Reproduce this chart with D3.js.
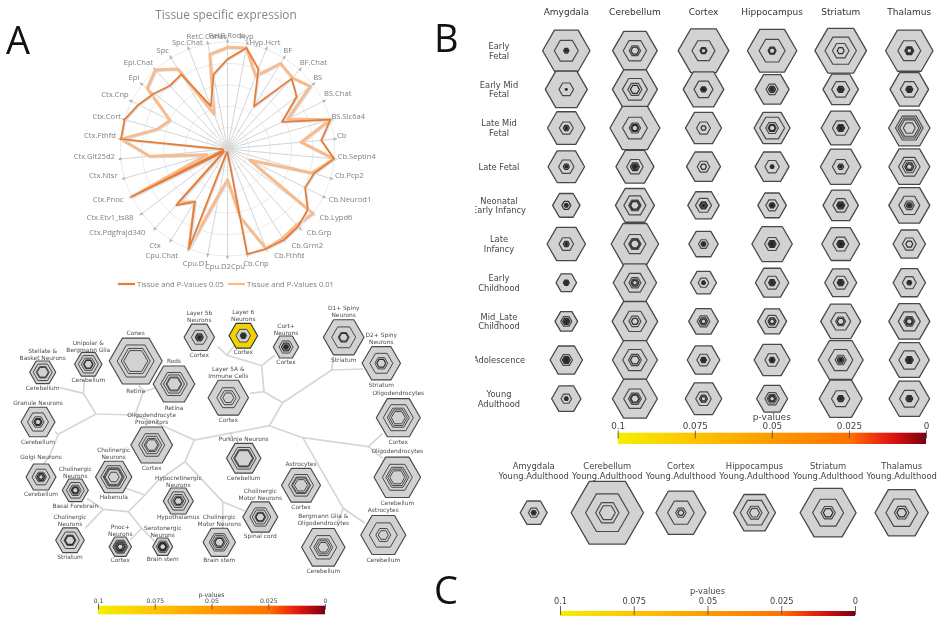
<!DOCTYPE html>
<html><head><meta charset="utf-8">
<style>html,body{margin:0;padding:0;background:#fff}svg{display:block;filter:blur(0.5px)}</style>
<script src="https://cdn.jsdelivr.net/npm/d3@7"></script></head><body>
<svg id="c" width="941" height="619"></svg>
<script>
// ---------- radar data ----------
const radarAxes=["RetB.Rods","Hyp","Hyp.Hcrt","BF","BF.Chat","BS","BS.Chat","BS.Slc6a4","Cb","Cb.Septin4","Cb.Pcp2","Cb.Neurod1","Cb.Lypd6","Cb.Grp","Cb.Grm2","Cb.Fthfd","Cb.Cnp","Cpu.D2Cpu","Cpu.D1","Cpu.Chat","Ctx","Ctx.Pdgfrajd340","Ctx.Etv1_ts88","Ctx.Pnoc","Ctx.Ntsr","Ctx.Glt25d2","Ctx.Fthfd","Ctx.Cort","Ctx.Cnp","Epi","Epi.Chat","Spc","Spc.Chat","RetC.Cones"];
const radarP05=[.84,.96,.80,.47,.89,.81,.57,1,.88,1,.84,.81,.94,.98,1,1,1,.03,.03,1,.58,.71,.04,1,.04,.04,1,1,.93,.86,.80,.82,.43,.71];
const radarP01=[.95,.96,.73,.94,.90,.97,.63,1,.69,1,.82,.23,1,.96,.98,1,.65,.29,.43,1,.58,.68,.04,1,.2,.73,1,.68,.60,.94,1,.88,.35,.90];
const radarGrid=[.2,.4,.6,.8,1];
// ---------- developmental (B) data ----------
const regions=["Amygdala","Cerebellum","Cortex","Hippocampus","Striatum","Thalamus"];
const ageRows=[["Early","Fetal"],["Early Mid","Fetal"],["Late Mid","Fetal"],["Late Fetal"],["Neonatal","Early Infancy"],["Late","Infancy"],["Early","Childhood"],["Mid_Late","Childhood"],["Adolescence"],["Young","Adulthood"]];
const ringsEarlyFetal=[[23.7,12,2.7,1.5],[22.3,11.7,5.7,4],[25.3,11.5,3.5,2.5],[24.7,13,4,3],[25.8,15.7,8.3,3.5],[23.7,11.5,4.5,3.5,2.5]];
const ringsEarlyMidFetal=[[21,7.3,1],[22.5,12.5,7,4.5],[20.3,9.5,3,2],[17,6,3.5,2,1],[17.7,9,3.5,2.5,1.5],[19.3,9,3.5,2.5,1.5]];
const ringsLateMidFetal=[[18.8,7,3,1.5],[25,12.5,5.7,4,3],[18,7,2.5],[18,12.5,6.3,4,3],[19.5,8.3,4,3,2],[20.7,13.8,11.5,9.5,6]];
const ringsLateFetal=[[18.3,7.7,3,1.5],[19,8.3,4.5,3,2],[17,6.3,3],[17,7.2,2,1],[20.3,8.3,3,1.5],[20.5,10.8,7,4.5,3]];
const ringsNeonatal=[[13.7,4.5,2,1],[19.5,11,6.2,5.6,5,4.4],[15.7,8,4,3,1.5],[14.3,6.3,3,2],[17.7,7.8,4,3,2],[20.5,10.5,5,3,1.5]];
const ringsLateInfancy=[[19.2,7.3,3,1.5],[23.7,11,6.2,5.6,5,4.4],[14.7,5,2.5,1.5],[20.2,7.5,4,3,2],[19,8,4,3,2],[16.2,7,3.5]];
const ringsEarlyChildhood=[[10.3,3,2,1],[21.7,10.8,6,4,2.5],[13,5.3,2,1],[16.7,7.5,3.5,2.5,1.5],[16,7.5,3.5,2.5,1.5],[16.2,7,2.5,1.5]];
const ringsMidLateChildhood=[[11.3,5.5,3.5,2.5,1.5],[22.8,11.7,6,3.5],[14.8,6.3,4,2.5],[14.5,7,4,2.5],[20,10,5,3.5],[20.5,11,5.5,4,3]];
const ringsAdolescence=[[16.2,6.2,4,3,2],[22.5,12.2,6.5,4.5],[16.3,6.7,3,2,1],[18,7.2,3,2],[22.5,12.2,5.5,3.5,2],[20,10.5,4,3,2]];
const ringsYoungAdulthood=[[14.7,5.3,2,1],[22.5,11.2,6.5,5,4],[18.3,7.8,4,2.5],[15.5,7.2,5,3.5,2.5],[21.5,9.2,3.5,2.5,1.5],[20.3,9.7,3.5,2.5,1.5]];
const ringsByAge=[ringsEarlyFetal,ringsEarlyMidFetal,ringsLateMidFetal,ringsLateFetal,ringsNeonatal,ringsLateInfancy,ringsEarlyChildhood,ringsMidLateChildhood,ringsAdolescence,ringsYoungAdulthood];
// ---------- panel C data ----------
const ringsRegionYoung=[[13.5,5.3,2.5,1.5],[36.2,21.7,11.7,8],[25,13.3,5.2,3],[21,14.2,7.5,5],[28,15.5,7.2,4.8],[26.7,15.8,7.3,4.8]];
// ---------- colour bar ----------
const pTicks=[0.1,0.075,0.05,0.025,0];
const pStops=[0.1,0.075,0.05,0.025,0.012,0];
const pColors=["#f4ee00","#ffc400","#ff9a00","#ff7200","#e81510","#7a0010"];
// ---------- panel A cell types ----------
const nodeTop=[["Stellate &","Basket Neurons"],["Unipolar &","Bergmann Glia"],["Cones"],["Rods"],["Layer 5b","Neurons"],["Layer 6","Neurons"],["Cort+","Neurons"],["D1+ Spiny","Neurons"],["D2+ Spiny","Neurons"],["Layer 5A &","Immune Cells"],["Oligodendrocytes"],["Oligodendrocytes"],["Purkinje Neurons"],["Astrocytes"],["Astrocytes"],["Bergmann Glia &","Oligodendrocytes"],["Cholinergic","Motor Neurons"],["Cholinergic","Motor Neurons"],["Oligodendrocyte","Progenitors"],["Granule Neurons"],["Golgi Neurons"],["Cholinergic","Neurons"],["Cholinergic","Neurons"],["Hypocretinergic","Neurons"],["Cholinergic","Neurons"],["Pnoc+","Neurons"],["Serotonergic","Neurons"]];
const nodeTissue=["Cerebellum","Cerebellum","Retina","Retina","Cortex","Cortex","Cortex","Striatum","Striatum","Cortex","Cortex","Cerebellum","Cerebellum","Cortex","Cerebellum","Cerebellum","Spinal cord","Brain stem","Cortex","Cerebellum","Cerebellum","Basal Forebrain","Habenula","Hypothalamus","Striatum","Cortex","Brain stem"];
const nodeRings=[[13,9.5,6.5,6,5.5],[13.7,10,7,5,4.4],[26.5,18.5,14.5,12],[20.8,13.3,10.5,8,7],[15.2,8,4,2.5,1.5],[14.3,7.3,3,2,1],[12.7,7,4.5,2.5,1.5],[20.3,12,5.5,4.5],[19.2,11.5,6.5,4.5],[20.2,11.5,8,5.5],[22,15,11,9,7],[23.3,15,11.5,9.5,7.5],[17.2,12.5,10,9.4,8.8],[19.5,12.5,9.5,8.5,6.5],[22.5,14,7.5,5],[21.7,13.5,9.5,7.5,5.5],[17.5,10.5,8,5.5,4.5],[16.2,10,8,6,4.5],[20.8,13,10,7.5,6],[17,10.5,6,4,3],[15,9,5.5,4,2.5],[13,9,6,4,3],[18.2,13,10.5,9.5,8.5,5.5],[15,10.5,7.5,5.5,4],[14.3,9.5,6,5.4,4.8],[11.2,7.5,6.5,5.5,4.5,3],[10,6.5,5,4.4,3.8,3.2]];
const highlightedNode=5;
// ---------- layout only (tree drawing & label placement) ----------
const nodeAt=[[42.7,372.3],[88.3,364.3],[135.7,361],[174,384],[199.3,337.3],[243.3,335.7],[286,347],[343.7,337.3],[381.3,363.3],[228.3,397.7],[398.3,417.7],[397.3,477.3],[243.7,458.3],[301,485.3],[383.3,535],[323.3,547.3],[260.3,517],[219.3,542.3],[151.7,445],[38,422],[41,477],[75.3,490.3],[113.7,477],[178.3,501],[70,540.3],[120.3,546.7],[162.7,546.7]];
const topLabelY=[351,342.7,333,361.3,313,312,325.7,308,335.3,369,393.3,451.3,439,463.7,510.3,516.3,491.3,517.3,415,403.3,456.7,469,450.3,478.3,517.3,527.3,528.3];
const bottomLabelY=[387.7,380.3,390.7,408,355,352.3,361.7,360,384.7,420,442,503,478,506.7,560.3,570.7,536,560.3,467.7,441.7,494,505.7,497.3,517.3,556.7,560,558.7];
const treePaths=[
 [[60,387.7],[83.3,393.3],[96,414],[135,415],[165,426.7],[194.3,440],[269.3,425.7],[282.7,402.7],[331.7,370],[333.3,356.7]],
 [[84.3,380],[83.3,393.3]],
 [[96,414],[58.3,434.3],[55,431.7]],
 [[58.3,434.3],[50,455],[43,465]],
 [[135,415],[143.3,391.7],[139,385]],
 [[143.3,391.7],[155,388]],
 [[194.3,440],[185,461.7],[156.7,481.7],[145,495],[128.3,511.7],[103.3,509.3],[86.7,498.3]],
 [[145,495],[125,488]],
 [[103.3,509.3],[85,528.3]],
 [[128.3,511.7],[141.7,528.3],[155,541.7]],
 [[141.7,528.3],[130,540]],
 [[185,461.7],[222.7,501.7],[245,511]],
 [[222.7,501.7],[222.7,528.3]],
 [[230,431.7],[233.3,441.7]],
 [[282.7,402.7],[264,391.7],[250,393.3]],
 [[264,391.7],[261.7,365.7],[275,355]],
 [[261.7,365.7],[226.7,355],[235,345]],
 [[226.7,355],[218,346.7]],
 [[331.7,370],[363.3,369]],
 [[269.3,425.7],[302.7,437.7],[368.3,446.7],[382.7,433.3]],
 [[368.3,446.7],[382.7,458.3]],
 [[302.7,437.7],[343.3,508.3],[365,523.3]],
 [[343.3,508.3],[336.7,525]]
];
const radarLabelAt=[[226.7,35],[246.7,36.7],[265,42.3],[287.7,50.7],[313.3,62],[317.7,77.3],[337.7,93.3],[348.3,116.7],[341.7,135.7],[356.7,156],[349.3,175.7],[350,199],[336,217],[319,232.3],[307.3,245.3],[289.3,255.7],[256,263],[225,266],[195.7,263.3],[161.7,255.7],[155,245.3],[117.3,232.3],[110,217],[108.3,199],[103.3,175],[94.3,156],[100,135.7],[106.7,116.7],[115,94],[134,77.3],[138.3,62.3],[162.7,50.7],[187.3,42.3],[206.7,36.7]];

const svg=d3.select("#c");
const DJ="'DejaVu Sans',sans-serif", OS="'Open Sans',sans-serif";
const hexPath=r=>d3.line()(d3.range(6).map(k=>[r*Math.cos(k*Math.PI/3),r*Math.sin(k*Math.PI/3)]))+"Z";
const ringScale=d3.scaleLinear().domain([0,40]).range([0,40]);

function drawHex(parent,x,y,rings,opts={}){
  const g=parent.append("g").attr("transform",`translate(${x},${y})`);
  g.selectAll("path").data(rings).join("path")
   .attr("d",d=>hexPath(ringScale(d)))
   .attr("fill",(d,i)=>i===0&&opts.fill?opts.fill:(d<=2?"#1c1c1c":"#d2d2d2"))
   .attr("stroke",(d,i)=>i===0&&opts.fill?"#333":(d<5?"#2e2e2e":"#484848"))
   .attr("stroke-width",(d,i)=>i===0?(opts.sw0||1.3):(d<5?1.25:(opts.sw||1.15)))
   .attr("stroke-linejoin","round");
}
function colorBar(x0,x1,yBar,hBar,yAxis,tickLen,fs,titleY,titleFs,id,pad){
  const x=d3.scaleLinear().domain([0.1,0]).range([x0,x1]);
  const col=d3.scaleLinear().domain(pStops).range(pColors);
  const grad=svg.append("linearGradient").attr("id",id);
  d3.range(0,1.0001,0.05).forEach(t=>grad.append("stop").attr("offset",t).attr("stop-color",col(0.1*(1-t))));
  svg.append("rect").attr("x",x0).attr("y",yBar).attr("width",x1-x0).attr("height",hBar).attr("fill",`url(#${id})`);
  const ax=d3.axisTop(x).tickValues(pTicks).tickFormat(d=>String(d)).tickSize(-tickLen).tickPadding(pad);
  const g=svg.append("g").attr("transform",`translate(0,${yAxis})`).call(ax);
  g.select(".domain").remove();
  g.selectAll("line").attr("stroke","#555").attr("stroke-width",0.9);
  g.selectAll("text").attr("font-family",DJ).attr("font-size",fs).attr("fill","#444");
  svg.append("text").attr("x",x(0.05)).attr("y",titleY).attr("text-anchor","middle").attr("font-family",DJ).attr("font-size",titleFs).attr("fill","#444").text("p-values");
}

// ---------- panel letters ----------
[["A",6,54],["B",434,52],["C",434,604]].forEach(d=>svg.append("text").attr("x",d[1]).attr("y",d[2]).attr("font-family",OS).attr("font-size",38).attr("fill","#111").text(d[0]));

// ---------- radar ----------
const cx=227.5,cy=149,R=107;
const rad=d3.scaleLinear().domain([0,1]).range([0,R]);
const ang=d3.scalePoint().domain(radarAxes).range([0,2*Math.PI*(33/34)]);
const gR=svg.append("g").attr("transform",`translate(${cx},${cy})`);
gR.selectAll("circle").data(radarGrid).join("circle").attr("r",d=>rad(d)).attr("fill","none").attr("stroke","#e2e6ea").attr("stroke-width",0.8);
const polar=(a,v)=>[rad(v)*Math.sin(a),-rad(v)*Math.cos(a)];
gR.selectAll("line.s").data(radarAxes).join("line").attr("class","s")
  .attr("x1",0).attr("y1",0).attr("x2",d=>polar(ang(d),1.0)[0]).attr("y2",d=>polar(ang(d),1.0)[1])
  .attr("stroke","#cfcfcf").attr("stroke-width",0.9);
gR.selectAll("path.ar").data(radarAxes).join("path").attr("class","ar")
  .attr("d","M-1.6,2.5L0,-1.5L1.6,2.5Z").attr("fill","#b5b5b5")
  .attr("transform",d=>{const p=polar(ang(d),1.02);return `translate(${p})rotate(${ang(d)*180/Math.PI})`;});
gR.append("circle").attr("r",7).attr("fill","#dcdcdc").attr("opacity",.55);
const radial=d3.lineRadial().angle(d=>ang(d.k)).radius(d=>rad(d.v)).curve(d3.curveLinearClosed);
const series=vals=>radarAxes.map((k,i)=>({k,v:vals[i]}));
gR.append("path").attr("d",radial(series(radarP01))).attr("fill","none").attr("stroke","#d9e6f2").attr("stroke-width",2.4).attr("transform","translate(1,1)");
gR.append("path").attr("d",radial(series(radarP01))).attr("fill","none").attr("stroke","#f8bb8e").attr("stroke-width",3).attr("stroke-linejoin","round");
gR.append("path").attr("d",radial(series(radarP05))).attr("fill","none").attr("stroke","#d9e6f2").attr("stroke-width",1.8).attr("transform","translate(1,1)");
gR.append("path").attr("d",radial(series(radarP05))).attr("fill","none").attr("stroke","#e97c30").attr("stroke-width",1.8).attr("stroke-linejoin","round");
svg.selectAll("text.rl").data(radarAxes).join("text").attr("class","rl")
  .attr("x",(d,i)=>radarLabelAt[i][0]).attr("y",(d,i)=>radarLabelAt[i][1]+2.5)
  .attr("text-anchor","middle").attr("font-family",OS).attr("font-size",7.6).attr("fill","#7f7f7f").text(d=>d);
svg.append("text").attr("x",226).attr("y",19).attr("text-anchor","middle").attr("font-family",OS).attr("font-size",11.8).attr("fill","#868686").text("Tissue specific expression");
svg.append("line").attr("x1",118).attr("x2",135).attr("y1",284).attr("y2",284).attr("stroke","#e97c30").attr("stroke-width",2.2);
svg.append("text").attr("x",137).attr("y",287).attr("font-family",OS).attr("font-size",7.6).attr("fill","#7f7f7f").text("Tissue and P-Values 0.05");
svg.append("line").attr("x1",228).attr("x2",245).attr("y1",284).attr("y2",284).attr("stroke","#f8bb8e").attr("stroke-width",2.2);
svg.append("text").attr("x",247).attr("y",287).attr("font-family",OS).attr("font-size",7.6).attr("fill","#7f7f7f").text("Tissue and P-Values 0.01");

// ---------- tree ----------
const gT=svg.append("g");
gT.selectAll("path").data(treePaths).join("path").attr("d",d=>d3.line()(d)).attr("fill","none").attr("stroke","#d6d6d6").attr("stroke-width",1.7);
nodeRings.forEach((rings,i)=>{
  drawHex(gT,nodeAt[i][0],nodeAt[i][1],rings,{fill:i===highlightedNode?"#f2d200":null,sw0:1.15,sw:1});
  nodeTop[i].forEach((t,j)=>gT.append("text").attr("x",nodeAt[i][0]).attr("y",topLabelY[i]+j*7+2).attr("text-anchor","middle").attr("font-family",DJ).attr("font-size",5.9).attr("fill","#4c4c4c").text(t));
  gT.append("text").attr("x",nodeAt[i][0]).attr("y",bottomLabelY[i]+2).attr("text-anchor","middle").attr("font-family",DJ).attr("font-size",5.9).attr("fill","#4c4c4c").text(nodeTissue[i]);
});
colorBar(98,325,605.7,8.6,604,5.5,6.2,596.5,6.2,"g1",1);

// ---------- panel B ----------
const xB=d3.scalePoint().domain(regions).range([566.3,909.3]);
const yB=d3.scalePoint().domain(d3.range(ageRows.length)).range([50.7,398.7]);
regions.forEach(r=>svg.append("text").attr("x",xB(r)).attr("y",15).attr("text-anchor","middle").attr("font-family",DJ).attr("font-size",9).attr("fill","#333").text(r));
svg.append("clipPath").attr("id","rowClip").append("rect").attr("x",475).attr("y",0).attr("width",100).attr("height",430);
ageRows.forEach((lines,i)=>{
  lines.forEach((t,j)=>svg.append("text").attr("clip-path","url(#rowClip)").attr("x",499).attr("y",yB(i)+3+(j-(lines.length-1)/2)*9.7).attr("text-anchor","middle").attr("font-family",DJ).attr("font-size",8.3).attr("fill","#444").text(t));
  regions.forEach((r,k)=>drawHex(svg,xB(r),yB(i),ringsByAge[i][k]));
});
colorBar(617.7,926,432.7,11.3,430.5,8,8.8,420,9,"g2",1.5);

// ---------- panel C ----------
const xC=d3.scalePoint().domain(regions).range([533.7,901.7]);
regions.forEach((r,k)=>{
  svg.append("text").attr("x",xC(r)).attr("y",469).attr("text-anchor","middle").attr("font-family",DJ).attr("font-size",8.4).attr("fill","#444").text(r);
  svg.append("text").attr("x",xC(r)).attr("y",479).attr("text-anchor","middle").attr("font-family",DJ).attr("font-size",8.4).attr("fill","#444").text("Young.Adulthood");
  drawHex(svg,xC(r),512.7,ringsRegionYoung[k]);
});
colorBar(560,855,611,5,606,9,8.3,594,8.3,"g3",2);
</script></body></html>
